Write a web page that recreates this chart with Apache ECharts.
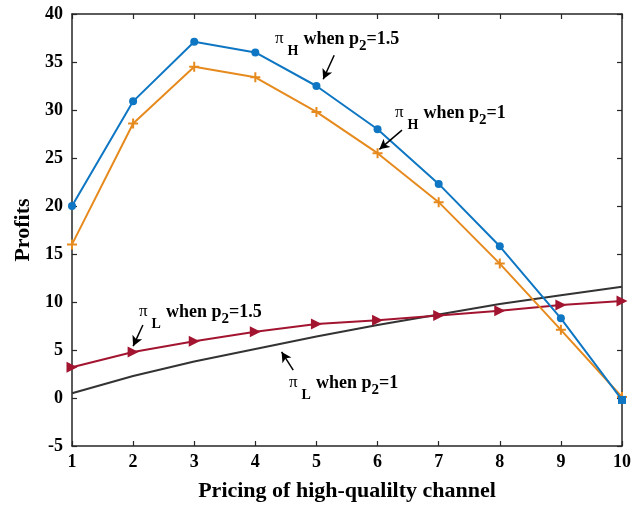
<!DOCTYPE html>
<html>
<head>
<meta charset="utf-8">
<script src="https://cdn.jsdelivr.net/npm/echarts@6/dist/echarts.min.js"></script>
<style>
  html, body { margin: 0; padding: 0; background: #fff; }
  #chart { width: 644px; height: 507px; }
</style>
</head>
<body>
<div id="chart"></div>
<script>
  // 横轴：高质量渠道定价
  var prices = [1, 2, 3, 4, 5, 6, 7, 8, 9, 10];
  // 各曲线利润
  var piHp15 = [20, 30.9, 37.1, 36, 32.5, 28, 22.3, 15.8, 8.3, -0.2];
  var piHp1 = [16, 28.6, 34.5, 33.4, 29.8, 25.5, 20.4, 14, 7.1, 0.1];
  var piLp15 = [3.2, 4.8, 5.9, 6.9, 7.7, 8.1, 8.6, 9.1, 9.7, 10.1];
  var piLp1 = [0.5, 2.3, 3.8, 5.1, 6.4, 7.6, 8.7, 9.8, 10.7, 11.6];
  var yTicks = [-5, 0, 5, 10, 15, 20, 25, 30, 35, 40];

  var serif = 'Liberation Serif';
  var axisColor = '#262626';

  function pairs(vals) {
    return prices.map(function (x, i) { return [x, vals[i]]; });
  }

  // 注释箭头（数据坐标）
  function arrow(from, to) {
    return [{ coord: from }, { coord: to }];
  }

  var richStyle = {
    pi: { fontFamily: serif, fontSize: 17, fontWeight: 'normal', color: '#000', lineHeight: 28, verticalAlign: 'top' },
    w: { fontFamily: serif, fontSize: 18, fontWeight: 'bold', color: '#000', lineHeight: 28, verticalAlign: 'top' },
    subA: { fontFamily: serif, fontSize: 14, fontWeight: 'bold', color: '#000', lineHeight: 28, verticalAlign: 'bottom', padding: [0, 5, 0, 4] },
    subB: { fontFamily: serif, fontSize: 15, fontWeight: 'bold', color: '#000', lineHeight: 28, verticalAlign: 'bottom', padding: [0, 0, 4, 0] }
  };

  function label(left, top, s, p) {
    return {
      type: 'text',
      left: left,
      top: top,
      silent: true,
      style: {
        text: '{pi|π}{subA|' + s + '}{w|when p}{subB|2}{w|=' + p + '}',
        fontFamily: serif,
        fontWeight: 'bold',
        fontSize: 18,
        rich: richStyle
      }
    };
  }

  var myChart = echarts.init(document.getElementById('chart'));
  var ax = {
    type: 'value',
    axisLine: { onZero: false, lineStyle: { color: axisColor, width: 1.5 } },
    axisTick: { inside: true, length: 5, lineStyle: { color: axisColor, width: 1.2 } },
    splitLine: { show: false }
  };

  myChart.setOption({
    animation: false,
    grid: { left: 72, right: 22, top: 14, bottom: 60 },
    xAxis: [
      Object.assign({}, ax, {
        min: 1, max: 10, interval: 1,
        name: 'Pricing of high-qualilty channel',
        nameLocation: 'middle',
        nameGap: 34,
        nameTextStyle: { fontFamily: serif, fontSize: 22, fontWeight: 'bold', color: '#000' },
        axisLabel: { fontFamily: serif, fontSize: 18, fontWeight: 'bold', color: '#000', margin: 7 }
      }),
      Object.assign({}, ax, {
        min: 1, max: 10, interval: 1, position: 'top',
        axisLabel: { show: false }
      })
    ],
    yAxis: [
      Object.assign({}, ax, {
        min: yTicks[0], max: yTicks[yTicks.length - 1], interval: 5,
        name: 'Profits',
        nameLocation: 'middle',
        nameGap: 36,
        nameTextStyle: { fontFamily: serif, fontSize: 22, fontWeight: 'bold', color: '#000' },
        axisLabel: { fontFamily: serif, fontSize: 18, fontWeight: 'bold', color: '#000', margin: 9 }
      }),
      Object.assign({}, ax, {
        min: yTicks[0], max: yTicks[yTicks.length - 1], interval: 5, position: 'right',
        axisLabel: { show: false }
      })
    ],
    series: [
      {
        name: 'piL p2=1',
        type: 'line',
        data: pairs(piLp1),
        showSymbol: false,
        symbol: 'none',
        lineStyle: { color: '#333333', width: 2 },
        markLine: {
          silent: true,
          symbol: ['none', 'arrow'],
          symbolSize: [8, 10],
          label: { show: false },
          lineStyle: { color: '#000', width: 1.5, type: 'solid' },
          data: [
            arrow([5.29, 35.7], [5.11, 33.2]),
            arrow([6.40, 27.9], [6.03, 25.9]),
            arrow([2.16, 7.6], [2.0, 5.4]),
            arrow([4.62, 2.9], [4.43, 4.8])
          ]
        }
      },
      {
        name: 'piL p2=1.5',
        type: 'line',
        data: pairs(piLp15),
        symbol: 'triangle',
        symbolRotate: -90,
        symbolSize: 11,
        itemStyle: { color: '#A2142F' },
        lineStyle: { color: '#A2142F', width: 2 }
      },
      {
        name: 'piH p2=1',
        type: 'line',
        data: pairs(piHp1),
        symbol: 'path://M4,0 L6,0 L6,4 L10,4 L10,6 L6,6 L6,10 L4,10 L4,6 L0,6 L0,4 L4,4 Z',
        symbolSize: 10,
        itemStyle: { color: '#E68A1E' },
        lineStyle: { color: '#E68A1E', width: 2 }
      },
      {
        name: 'piH p2=1.5',
        type: 'line',
        data: pairs(piHp15),
        symbol: function (v, p) { return p.dataIndex === prices.length - 1 ? 'rect' : 'circle'; },
        symbolSize: 8,
        itemStyle: { color: '#0E76C2' },
        lineStyle: { color: '#0E76C2', width: 2 }
      }
    ],
    graphic: [
      label(275, 30, 'H', '1.5'),
      label(395, 104, 'H', '1'),
      label(139, 303, 'L', '1.5'),
      label(289, 374, 'L', '1')
    ]
  });
  window.addEventListener('resize', myChart.resize);
</script>
</body>
</html>
